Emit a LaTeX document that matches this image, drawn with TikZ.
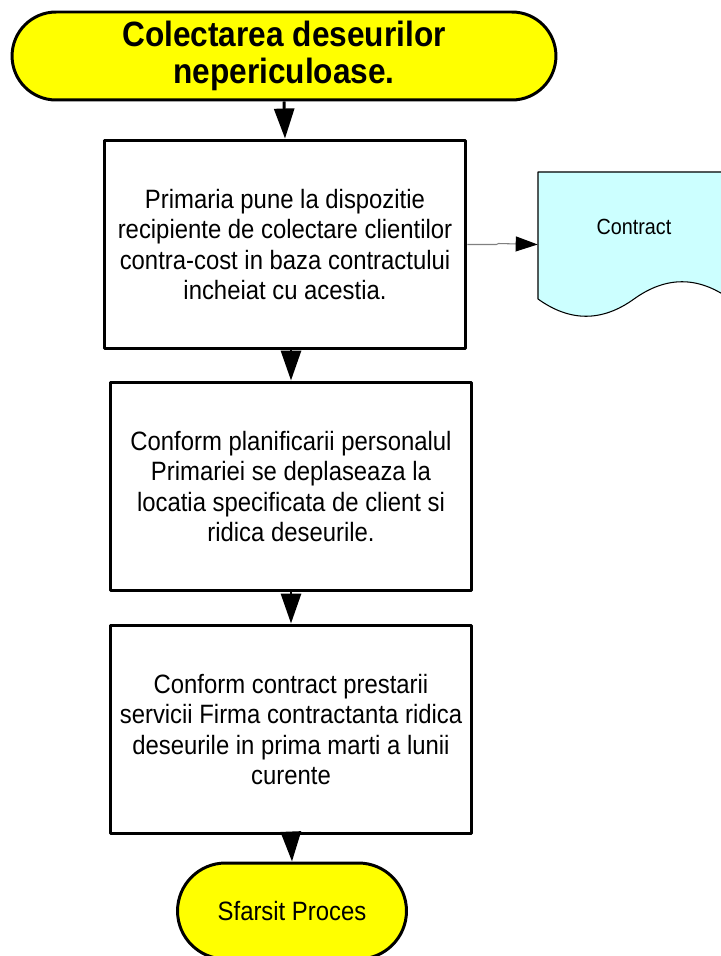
\documentclass[tikz,border=0pt]{standalone}
\usepackage{fontspec}
\setmainfont{Liberation Sans}[FakeStretch=0.9]
\usetikzlibrary{arrows.meta,shapes.misc}
\definecolor{termyellow}{HTML}{FFFF00}
\definecolor{docblue}{HTML}{CCFFFF}

\begin{document}
\begin{tikzpicture}[x=0.02cm, y=-0.02cm, >={Triangle[length=0.6cm,width=0.4cm]}, line join=round,
    term/.style={rounded rectangle, draw, fill=termyellow, line width=1.7pt, align=center, inner sep=0pt},
    proc/.style={rectangle, draw, line width=1.7pt, minimum width=7.24cm, minimum height=4.18cm, align=center, inner sep=0pt},
    flow/.style={->, line width=1.7pt}]
    \def\bodyfont{\fontsize{15.1}{17.1}\selectfont}
    \def\titlefont{\fontsize{20}{21.2}\selectfont\bfseries}
    \useasboundingbox (0,0) rectangle (720,956);
    % start and end
    \node[term, minimum width=10.88cm, minimum height=1.76cm, font=\titlefont] (title) at (284,56)
        {Colectarea deseurilor\\nepericuloase.};
    \node[term, minimum width=4.58cm, minimum height=1.92cm, font=\bodyfont] (sfarsit) at (292,911) {Sfarsit Proces};
    % steps
    \node[proc, font=\bodyfont] (primaria) at (285,244.5)
        {Primaria pune la dispozitie\\recipiente de colectare clientilor\\contra-cost in baza contractului\\incheiat cu acestia.};
    \node[proc, font=\bodyfont] (conform) at (291,486.5)
        {Conform planificarii personalul\\Primariei se deplaseaza la\\locatia specificata de client si\\ridica deseurile.};
    \node[proc, font=\bodyfont] (firma) at (291,729.5)
        {Conform contract prestarii\\servicii Firma contractanta ridica\\deseurile in prima marti a lunii\\curente};
    % document
    \draw[fill=docblue, line width=0.6pt] (538,172) -- (730,172) -- (730,299)
        .. controls (698,276) and (666,276) .. (634,299)
        .. controls (602,322) and (570,322) .. (538,299) -- cycle;
    \node[minimum width=3.84cm, inner sep=0pt, font=\fontsize{12.5}{14}\selectfont] (contract) at (634,227) {Contract};
    % connectors
    \draw[flow] (title.south) -- (primaria.north);
    \draw[flow] (primaria.south -| conform.north) -- (conform.north);
    \draw[flow] (conform.south) -- (firma.north);
    \draw[flow] (firma.south) -- (sfarsit.north);
    \draw[gray, line width=0.6pt, -{Triangle[length=0.44cm,width=0.3cm,color=black]}]
        (primaria.east) -- ++(29,0) -- ++(2,-1) -- (primaria.east -| contract.west);
\end{tikzpicture}
\end{document}
